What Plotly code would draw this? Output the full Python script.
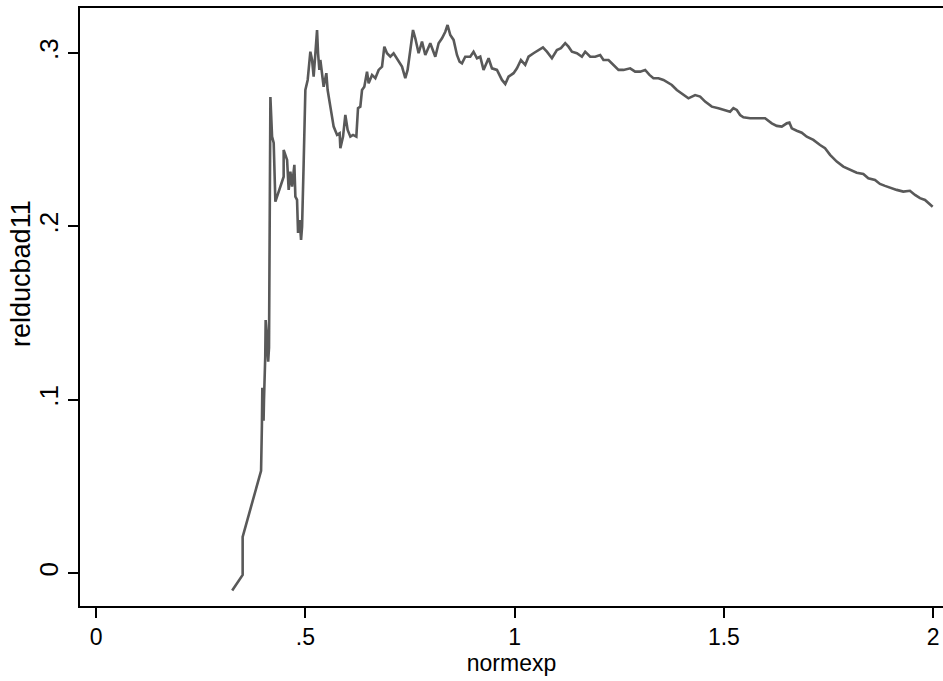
import plotly.graph_objects as go

normexp = [0.325, 0.350, 0.350, 0.394, 0.396, 0.397, 0.398, 0.399, 0.400, 0.401,
           0.404, 0.405, 0.407, 0.409, 0.411, 0.413, 0.4146, 0.4163, 0.4203, 0.4242,
           0.4282, 0.448, 0.448, 0.4562, 0.460, 0.4641, 0.4681, 0.4736, 0.476, 0.480,
           0.4824, 0.4863, 0.4896, 0.492, 0.4958, 0.4999, 0.5054, 0.5078, 0.5118, 0.5159,
           0.5197, 0.5238, 0.5278, 0.5302, 0.5333, 0.5357, 0.5398, 0.5436, 0.550, 0.5531,
           0.5596, 0.5675, 0.5756, 0.5818, 0.5835, 0.5899, 0.5954, 0.6009, 0.6074, 0.6138,
           0.6217, 0.6257, 0.6312, 0.6353, 0.6408, 0.6472, 0.6511, 0.6592, 0.6671, 0.675,
           0.6831, 0.6886, 0.695, 0.7029, 0.7108, 0.7227, 0.7308, 0.7387, 0.7442, 0.7507,
           0.7571, 0.7626, 0.7705, 0.7786, 0.7865, 0.7984, 0.8104, 0.8183, 0.8264, 0.8343,
           0.8397, 0.8462, 0.8541, 0.8622, 0.8684, 0.8741, 0.882, 0.8939, 0.9018, 0.910,
           0.9178, 0.9257, 0.9377, 0.9458, 0.9577, 0.9697, 0.9776, 0.9854, 0.9974, 1.0055,
           1.015, 1.0253, 1.0332, 1.0451, 1.0571, 1.0676, 1.0771, 1.0891, 1.101, 1.1106,
           1.1209, 1.1287, 1.1369, 1.1488, 1.1607, 1.1686, 1.1806, 1.1925, 1.2044, 1.2123,
           1.2243, 1.2362, 1.2482, 1.2601, 1.2761, 1.288, 1.300, 1.3119, 1.3222, 1.3317,
           1.3437, 1.3556, 1.3638, 1.3757, 1.3876, 1.3996, 1.4153, 1.4313, 1.4433, 1.4552,
           1.4712, 1.487, 1.503, 1.5149, 1.5228, 1.5309, 1.5388, 1.5467, 1.5627, 1.5787,
           1.5985, 1.6145, 1.6265, 1.6384, 1.6503, 1.6566, 1.6623, 1.6742, 1.6862, 1.6981,
           1.7139, 1.7299, 1.7418, 1.7538, 1.7698, 1.7855, 1.8015, 1.8175, 1.8333, 1.8452,
           1.8612, 1.8731, 1.8851, 1.9011, 1.9131, 1.9288, 1.9448, 1.9568, 1.9687, 1.9807,
           1.999]

relducbad11 = [-0.010, -0.001, 0.021, 0.059, 0.085, 0.107, 0.090, 0.104, 0.088, 0.100,
               0.125, 0.146, 0.140, 0.130, 0.122, 0.130, 0.2366, 0.2747, 0.2518, 0.2482,
               0.2143, 0.2287, 0.2441, 0.2384, 0.2211, 0.2316, 0.2230, 0.2355, 0.2172, 0.2153,
               0.1963, 0.2037, 0.1922, 0.1999, 0.2364, 0.2788, 0.2845, 0.2922, 0.3008, 0.2960,
               0.2864, 0.2999, 0.3133, 0.2999, 0.2903, 0.2960, 0.2884, 0.2806, 0.2884, 0.2787,
               0.2691, 0.2576, 0.2528, 0.2537, 0.2451, 0.2518, 0.2643, 0.2557, 0.2518, 0.2528,
               0.2518, 0.2682, 0.2691, 0.2787, 0.2806, 0.2893, 0.2826, 0.2874, 0.2855, 0.2903,
               0.2922, 0.3037, 0.2999, 0.2979, 0.2999, 0.2950, 0.2922, 0.2855, 0.2903, 0.3018,
               0.3133, 0.3085, 0.2999, 0.3066, 0.2989, 0.3057, 0.2979, 0.3057, 0.3085, 0.3123,
               0.3162, 0.3104, 0.3076, 0.2989, 0.2950, 0.2941, 0.2979, 0.2979, 0.3008, 0.2970,
               0.2979, 0.2903, 0.2970, 0.2912, 0.2903, 0.2845, 0.2822, 0.2864, 0.2884, 0.2912,
               0.2960, 0.2932, 0.2979, 0.2999, 0.3018, 0.3033, 0.3008, 0.2970, 0.3018, 0.3028,
               0.3057, 0.3037, 0.3008, 0.2999, 0.2979, 0.3008, 0.2979, 0.2979, 0.2989, 0.2960,
               0.2960, 0.2932, 0.2903, 0.2903, 0.2912, 0.2893, 0.2893, 0.2903, 0.2874, 0.2855,
               0.2855, 0.2845, 0.2835, 0.2816, 0.2787, 0.2768, 0.2739, 0.2758, 0.2749, 0.2720,
               0.2691, 0.2682, 0.2668, 0.2662, 0.2682, 0.2672, 0.2643, 0.2630, 0.2624, 0.2624,
               0.2624, 0.2595, 0.2580, 0.2576, 0.2595, 0.2599, 0.2566, 0.2552, 0.2541, 0.2518,
               0.2499, 0.2470, 0.2451, 0.2413, 0.2374, 0.2345, 0.2326, 0.2310, 0.2303, 0.2278,
               0.2268, 0.2245, 0.2234, 0.2220, 0.2211, 0.2201, 0.2206, 0.2182, 0.2163, 0.2153,
               0.2114]

x_tickvals = [0, 0.5, 1, 1.5, 2]
x_ticktext = ["0", ".5", "1", "1.5", "2"]
y_tickvals = [0, 0.1, 0.2, 0.3]
y_ticktext = ["0", ".1", ".2", ".3"]
x_title = "normexp"
y_title = "relducbad11"

FONT = "Liberation Sans, Arial, sans-serif"

fig = go.Figure()
fig.add_trace(go.Scatter(x=normexp, y=relducbad11, mode="lines",
                         line=dict(color="#595959", width=2.6), showlegend=False))

fig.update_layout(
    width=943, height=681,
    margin=dict(l=80, r=0, t=8, b=75),
    paper_bgcolor="white", plot_bgcolor="white",
    font=dict(family=FONT, size=22, color="black"),
    xaxis=dict(range=[-0.0387, 2.0237], tickvals=x_tickvals, ticktext=x_ticktext,
               showgrid=False, zeroline=False, showline=True, mirror=True,
               linecolor="black", linewidth=1.5, ticks="outside", ticklen=10,
               tickwidth=1.5, tickcolor="black",
               tickfont=dict(family=FONT, size=23),
               title=dict(text=x_title, standoff=1, font=dict(family=FONT, size=23))),
    yaxis=dict(range=[-0.0189, 0.326], tickvals=y_tickvals, ticktext=y_ticktext,
               showgrid=False, zeroline=False, showline=True, mirror=False,
               linecolor="black", linewidth=1.5, ticks="outside", ticklen=10,
               tickwidth=1.5, tickcolor="black", tickangle=-90,
               tickfont=dict(family=FONT, size=26)),
    annotations=[dict(text=y_title, textangle=-90, xref="paper", yref="paper",
                      x=-0.0686, y=0.5566, xanchor="center", yanchor="middle",
                      showarrow=False, font=dict(family=FONT, size=27))],
)

fig.write_html("out.html")
